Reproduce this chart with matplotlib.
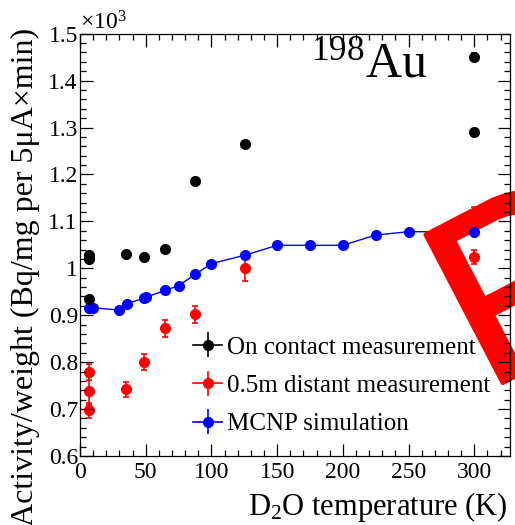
import matplotlib
matplotlib.use('Agg')
import matplotlib.pyplot as plt
import matplotlib.patheffects as pe
import numpy as np
from matplotlib.ticker import MultipleLocator, FuncFormatter

# ---------------- data (activity in units of 10^3 Bq/mg per 5uA x min) -------------
T_contact = [7, 7, 7, 35, 48.5, 65, 87.5, 125.5, 300, 300]
v_contact = [1.020, 1.028, 0.935, 1.030, 1.025, 1.042, 1.186, 1.264, 1.451, 1.291]
e_contact = [0.004, 0.004, 0.004, 0.004, 0.004, 0.004, 0.004, 0.006, 0.008, 0.004]

T_distant = [7, 7, 7, 35, 48.5, 65, 87.5, 125.5, 300, 300]
v_distant = [0.779, 0.738, 0.697, 0.742, 0.800, 0.872, 0.902, 1.000, 1.025, 1.100]
e_distant = [0.017, 0.030, 0.017, 0.016, 0.017, 0.018, 0.018, 0.028, 0.015, 0.030]

T_mcnp = [6.5, 10, 29.5, 35.5, 48.5, 50.5, 65, 75, 87.5, 100, 125.5, 150, 175, 200,
          225, 250, 300]
v_mcnp = [0.916, 0.916, 0.911, 0.925, 0.936, 0.939, 0.953, 0.963, 0.987, 1.010, 1.028,
          1.049, 1.049, 1.049, 1.071, 1.078, 1.078]

labels = ["On contact measurement", "0.5m distant measurement", "MCNP simulation"]
xticks_major = 50
yticks_major = 0.1

plt.rcParams['font.family'] = ['Liberation Serif', 'DejaVu Serif']
plt.rcParams['mathtext.fontset'] = 'custom'
plt.rcParams['mathtext.rm'] = 'Liberation Serif'
plt.rcParams['mathtext.it'] = 'Liberation Serif:italic'

W, H = 515, 525
fig = plt.figure(figsize=(W / 100, H / 100), dpi=100)
L, R, Tp, B = 80, 510, 33.7, 456
ax = fig.add_axes([L / W, 1 - B / H, (R - L) / W, (B - Tp) / H])
ax.set_xlim(0, 327.2)
ax.set_ylim(0.6, 1.5)

ms = 7
ax.errorbar(T_contact, v_contact, yerr=e_contact, fmt='o', color='black', ms=ms,
            elinewidth=1.2, capsize=2.5, capthick=1.2, zorder=3)
ax.errorbar(T_distant, v_distant, yerr=e_distant, fmt='o', color='red', ms=ms,
            elinewidth=1.2, capsize=2.5, capthick=1.2, zorder=2.2)
ax.plot(T_mcnp, v_mcnp, '-', color='blue', lw=1.0, zorder=2)
ax.plot(T_mcnp, v_mcnp, 'o', color='blue', ms=ms, lw=0, zorder=3)

# big red rotated letter (partially off-canvas)
ax.text(308.2, 0.736, 'P', fontsize=175, family='Liberation Sans', color='red',
        rotation=27.5, rotation_mode='anchor', ha='left', va='baseline',
        clip_on=False, zorder=2.3,
        path_effects=[pe.withStroke(linewidth=3, foreground='red')])

# axes style (ROOT-like)
ax.set_axisbelow(False)
for s in ax.spines.values():
    s.set_linewidth(0.9)
ax.xaxis.set_major_locator(MultipleLocator(xticks_major))
ax.xaxis.set_minor_locator(MultipleLocator(xticks_major / 5))
ax.yaxis.set_major_locator(MultipleLocator(yticks_major))
ax.yaxis.set_minor_locator(MultipleLocator(yticks_major / 5))
ax.yaxis.set_major_formatter(FuncFormatter(lambda v, p: f"{v:g}"))
ax.tick_params(which='both', direction='in', top=True, right=True, width=0.9,
               labelsize=17)
ax.tick_params(which='major', length=9)
ax.tick_params(which='minor', length=4.5)
ax.tick_params(axis='x', pad=4.3)
ax.tick_params(axis='y', pad=1.5)

fig.text(L / W, 1 - 30 / H, r'$\times10^{3}$', fontsize=17, ha='left', va='baseline')

fig.text(25 / W, 1 - 28 / H, 'Activity/weight (Bq/mg per 5μA×min)', rotation=90,
         ha='center', va='top', fontsize=23)
fig.text(508 / W, 1 - 515 / H, r'D$_{2}$O temperature (K)', ha='right',
         va='baseline', fontsize=22)

fig.text(427 / W, 1 - 77 / H, r'$^{198}$Au', ha='right', va='baseline', fontsize=36)

# legend with proxy error-bar handles
handles = []
for c in ['black', 'red', 'blue']:
    h = ax.errorbar([np.nan], [np.nan], yerr=[np.nan], fmt='o-', color=c, ms=ms,
                    lw=1.2, elinewidth=1.2, capsize=0)
    handles.append(h)
leg = fig.legend(handles, labels, loc='upper left',
                 bbox_to_anchor=(193 / W, 1 - 336 / H), bbox_transform=fig.transFigure,
                 frameon=False, fontsize=18, handlelength=1.16, handletextpad=0.2,
                 labelspacing=0.64, borderpad=0, borderaxespad=0)

fig.savefig('out.png', dpi=100)
